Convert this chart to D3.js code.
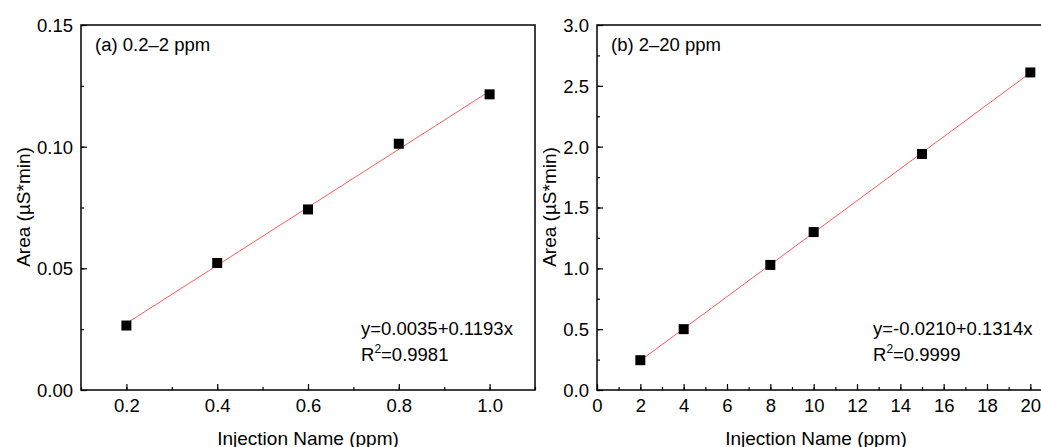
<!DOCTYPE html>
<html>
<head>
<meta charset="utf-8">
<script src="https://cdn.jsdelivr.net/npm/d3@7"></script>
<style>
  body { margin: 0; background: #fff; }
  svg text { font-family: "Liberation Sans", Arial, sans-serif; fill: #000; }
</style>
</head>
<body>
<svg width="1041" height="447"></svg>
<script>
// panel (a) 0.2-2 ppm
var concA = [0.2, 0.4, 0.6, 0.8, 1.0]
var areaA = [0.0265, 0.0522, 0.0742, 0.1012, 0.1215]
var fitA = [0.0035, 0.1193]
var xTicksA = [0.2, 0.4, 0.6, 0.8, 1.0]
var yTicksA = [0.00, 0.05, 0.10, 0.15]

// panel (b) 2-20 ppm
var concB = [2, 4, 8, 10, 15, 20]
var areaB = [0.245, 0.50, 1.028, 1.298, 1.94, 2.61]
var fitB = [-0.0210, 0.1314]
var xTicksB = [0, 2, 4, 6, 8, 10, 12, 14, 16, 18, 20]
var yTicksB = [0.0, 0.5, 1.0, 1.5, 2.0, 2.5, 3.0]

var svg = d3.select("svg")

function panel (opt) {
  var g = svg.append("g")
  var x = d3.scaleLinear().domain(opt.xDomain).range([opt.left, opt.right])
  var y = d3.scaleLinear().domain(opt.yDomain).range([390, 25])

  // minor ticks
  g.append("g")
    .attr("transform", "translate(0,390)")
    .call(d3.axisBottom(x).tickValues(opt.xMinor).tickSize(-3).tickFormat(""))
  g.append("g")
    .attr("transform", "translate(" + opt.left + ",0)")
    .call(d3.axisLeft(y).tickValues(opt.yMinor).tickSize(-3).tickFormat(""))

  // major ticks
  var xa = g.append("g")
    .attr("transform", "translate(0,390)")
    .call(d3.axisBottom(x).tickValues(opt.xTicks).tickSize(-6).tickPadding(9).tickFormat(opt.xFmt))
  var ya = g.append("g")
    .attr("transform", "translate(" + opt.left + ",0)")
    .call(d3.axisLeft(y).tickValues(opt.yTicks).tickSize(-6).tickPadding(8).tickFormat(opt.yFmt))

  g.selectAll(".domain").remove()
  g.selectAll(".tick line").attr("stroke", "#000").attr("stroke-width", 1.2)
  g.selectAll(".tick text").style("font-size", "18.5px").style("font-family", "Liberation Sans, Arial, sans-serif")
  xa.selectAll(".tick text").attr("dy", "0.71em")
  ya.selectAll(".tick text").attr("dy", "0.35em")

  // frame
  g.append("rect")
    .attr("x", opt.left).attr("y", 25)
    .attr("width", opt.right - opt.left).attr("height", 365)
    .attr("fill", "none").attr("stroke", "#000").attr("stroke-width", 1.5)

  // fit line
  var xs = d3.extent(opt.conc)
  g.append("line")
    .attr("x1", x(xs[0])).attr("y1", y(opt.fit[0] + opt.fit[1] * xs[0]))
    .attr("x2", x(xs[1])).attr("y2", y(opt.fit[0] + opt.fit[1] * xs[1]))
    .attr("stroke", "#ff5a5a").attr("stroke-width", 1)

  // points
  g.selectAll("rect.pt")
    .data(opt.conc)
    .enter().append("rect")
    .attr("class", "pt")
    .attr("x", function (d) { return x(d) - 5 })
    .attr("y", function (d, i) { return y(opt.area[i]) - 5 })
    .attr("width", 10).attr("height", 10)
    .attr("fill", "#000")

  // labels
  g.append("text")
    .attr("x", opt.left + 14).attr("y", 51)
    .style("font-size", "18.5px")
    .text(opt.title)

  g.append("text")
    .attr("x", opt.eqX).attr("y", 335)
    .style("font-size", "18.5px")
    .text("y=" + opt.fit[0].toFixed(4) + "+" + opt.fit[1].toFixed(4) + "x")

  var r2 = g.append("text")
    .attr("x", opt.eqX).attr("y", 361)
    .style("font-size", "18.5px")
  r2.append("tspan").text("R")
  r2.append("tspan").attr("dy", -8).style("font-size", "12px").text("2")
  r2.append("tspan").attr("dy", 8).text("=" + opt.r2)

  g.append("text")
    .attr("x", (opt.left + Math.min(opt.right, 1041)) / 2 + opt.xlabShift).attr("y", 445)
    .attr("text-anchor", "middle")
    .style("font-size", "19px")
    .text("Injection Name (ppm)")

  g.append("text")
    .attr("transform", "translate(" + opt.ylabX + ",207) rotate(-90)")
    .attr("text-anchor", "middle")
    .style("font-size", "19px")
    .text("Area (\u00b5S*min)")
}

panel({
  left: 81, right: 535,
  xDomain: [0.1, 1.1], yDomain: [0, 0.15],
  xTicks: xTicksA, yTicks: yTicksA,
  xMinor: d3.range(0.1, 1.11, 0.1), yMinor: d3.range(0, 0.151, 0.025),
  xFmt: d3.format(".1f"), yFmt: d3.format(".2f"),
  conc: concA, area: areaA, fit: fitA,
  title: "(a) 0.2\u20132 ppm", eqX: 361, r2: "0.9981",
  ylabX: 30, xlabShift: 0
})

panel({
  left: 597, right: 1052,
  xDomain: [0, 21], yDomain: [0, 3],
  xTicks: xTicksB, yTicks: yTicksB,
  xMinor: d3.range(0, 21, 1), yMinor: d3.range(0, 3.01, 0.25),
  xFmt: d3.format("d"), yFmt: d3.format(".1f"),
  conc: concB, area: areaB, fit: fitB,
  title: "(b) 2\u201320 ppm", eqX: 873, r2: "0.9999",
  ylabX: 556, xlabShift: -3
})
</script>
</body>
</html>
